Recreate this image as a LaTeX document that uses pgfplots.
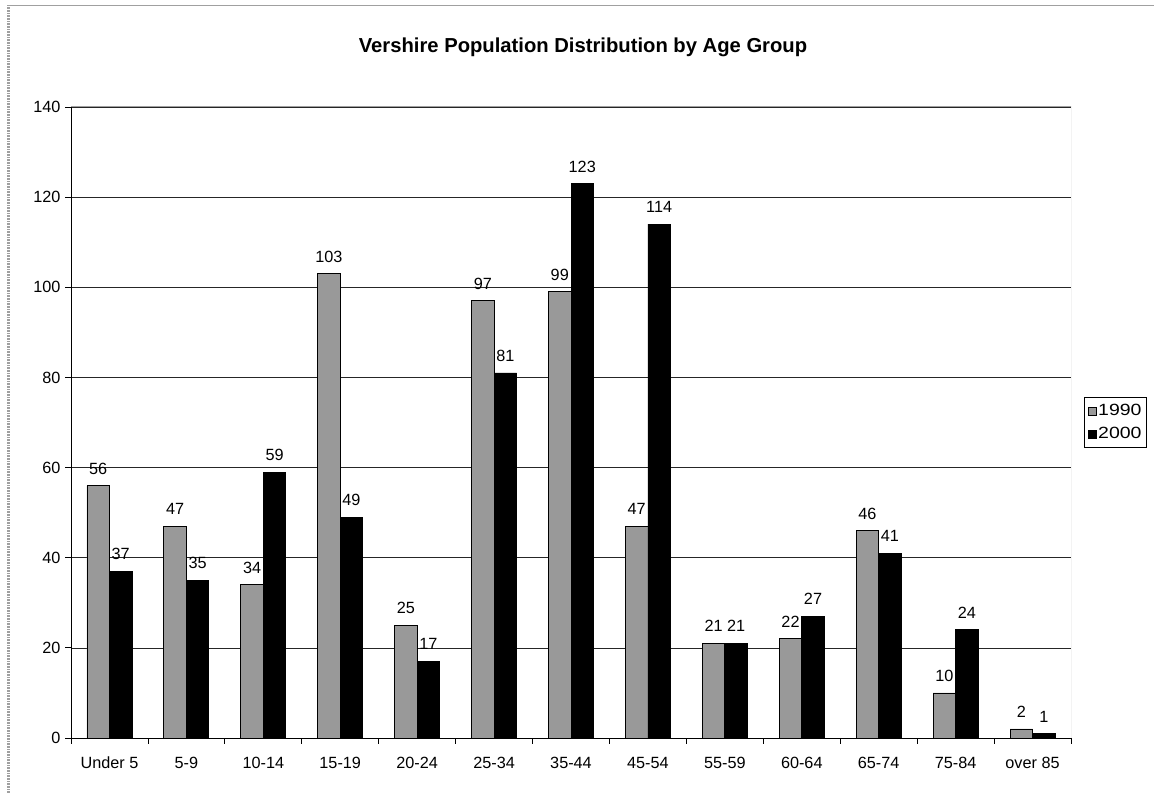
\documentclass[border=0pt]{standalone}
\usepackage{fontspec}
\setmainfont{Liberation Sans}
\usepackage{graphicx}
\usepackage{pgfplots}
\pgfplotsset{compat=1.18}
\definecolor{bargray}{RGB}{153,153,153}
\definecolor{framegray}{RGB}{160,160,160}
\begin{document}
\begin{tikzpicture}
\path[use as bounding box] (0bp,0bp) rectangle (1154bp,793bp);
% outer chart frame
\draw[framegray, line width=1.2bp] (7bp,787.5bp) -- (1154bp,787.5bp);
\draw[framegray, line width=3bp, dash pattern=on 0.8bp off 0.8bp] (8.5bp,0bp) -- (8.5bp,787bp);
% title
\node[anchor=base, font=\bfseries\fontsize{20.3}{24}\selectfont] at (583bp,740bp)
  {Vershire Population Distribution by Age Group};
\begin{axis}[
  at={(71bp,55bp)}, anchor=south west,
  scale only axis, width=1000bp, height=631bp,
  xmin=-0.5, xmax=12.5, ymin=0, ymax=140,
  ybar=0pt, bar width=22.5bp,
  ytick={0,20,...,140},
  xtick={0,...,12},
  xticklabels={Under 5,5-9,10-14,15-19,20-24,25-34,35-44,45-54,55-59,60-64,65-74,75-84,over 85},
  minor xtick={-0.5,0.5,...,12.5},
  major x tick style={draw=none},
  minor x tick style={black, line width=0.8bp},
  major y tick style={black, line width=0.8bp},
  tick align=outside, major tick length=6bp, minor tick length=6bp,
  axis x line*=bottom, axis y line*=left,
  axis line style={black, line width=0.8bp},
  ymajorgrids, grid style={black!85, line width=0.7bp},
  tick label style={font=\fontsize{16.3}{19}\selectfont},
  yticklabel style={xshift=-1bp},
  xticklabel style={anchor=base, text height=11.7bp, text depth=0bp, yshift=-24bp},
  /pgf/number format/assume math mode=true,
  nodes near coords,
  nodes near coords style={font=\fontsize{16.3}{19}\selectfont, inner sep=0pt, yshift=11bp},
  legend style={at={(1.013,0.540)}, anchor=north west, draw=black, line width=0.8bp,
    font=\fontsize{16.3}{19}\selectfont, inner xsep=4bp, inner ysep=5.5bp,
    row sep=7bp, legend cell align=left,
    nodes={inner xsep=1bp, inner ysep=1.5bp}},
  legend image code/.code={\draw[#1, line width=0.8bp] (0bp,-4bp) rectangle (8bp,4bp);},
]
\addplot[fill=bargray, draw=black, line width=0.8bp] coordinates {
  (0,56) (1,47) (2,34) (3,103) (4,25) (5,97) (6,99)
  (7,47) (8,21) (9,22) (10,46) (11,10) (12,2)};
\addplot[fill=black, draw=black, line width=0.8bp] coordinates {
  (0,37) (1,35) (2,59) (3,49) (4,17) (5,81) (6,123)
  (7,114) (8,21) (9,27) (10,41) (11,24) (12,1)};
\legend{\scalebox{1.2}[1]{1990},\scalebox{1.2}[1]{2000}}
% plot-area border on top and right
\draw[framegray, line width=1bp] (rel axis cs:0,1) -- (rel axis cs:1,1) -- (rel axis cs:1,0);
\end{axis}
\end{tikzpicture}
\end{document}
